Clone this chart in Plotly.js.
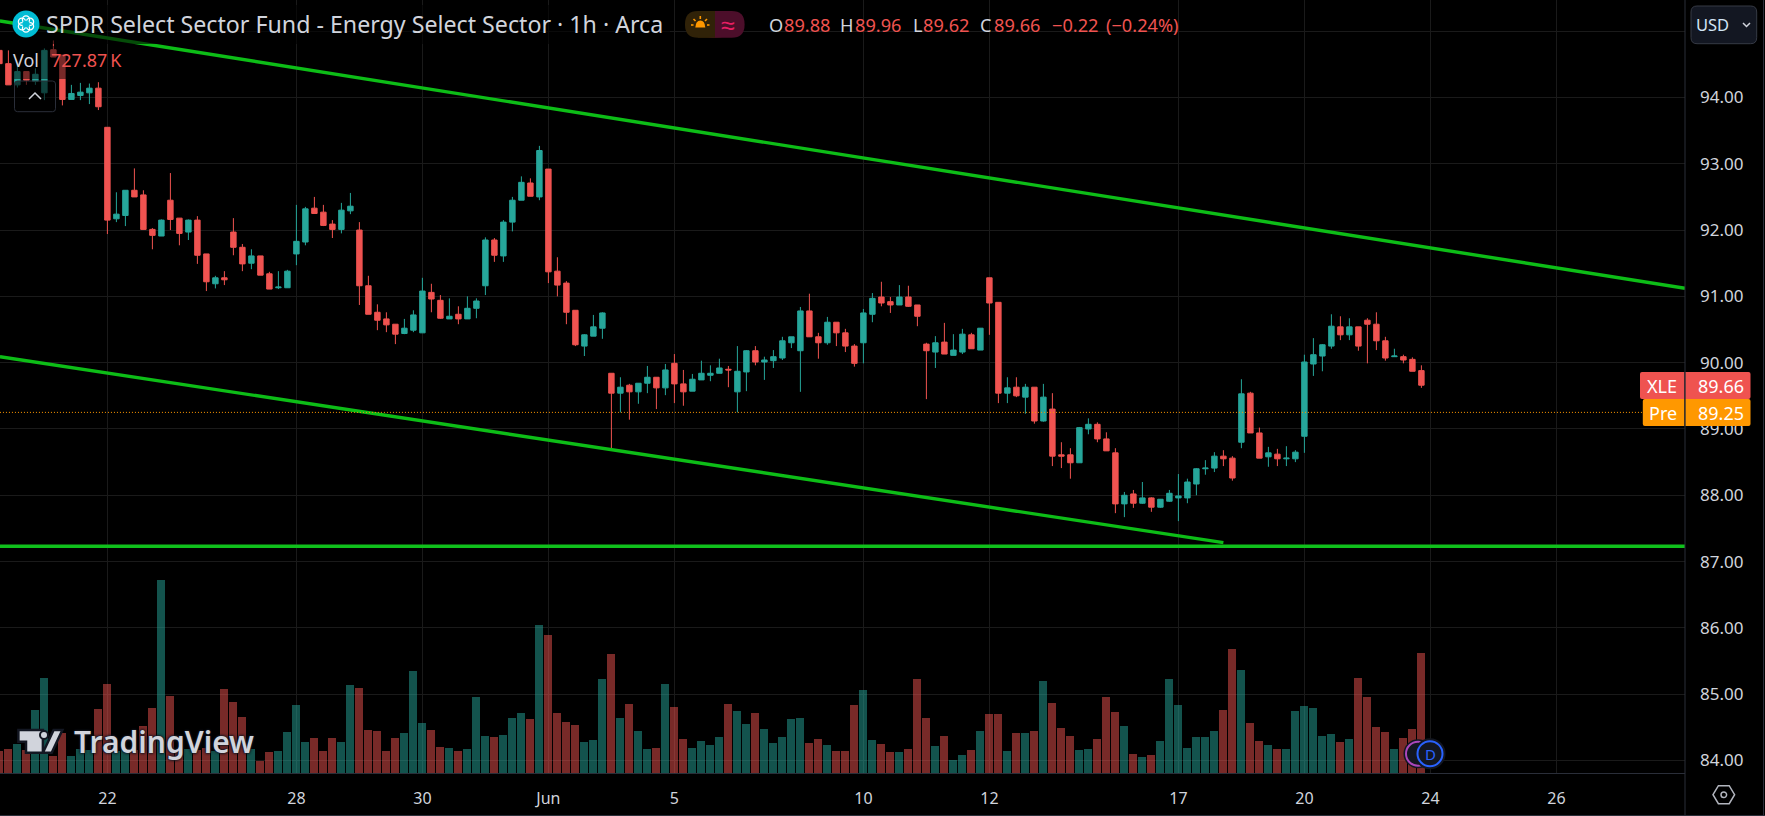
<!DOCTYPE html>
<html><head><meta charset="utf-8">
<script src="https://cdn.plot.ly/plotly-3.0.1.min.js"></script>
<style>html,body{margin:0;padding:0;background:#000;overflow:hidden}#c{width:1765px;height:816px}</style>
</head><body><div id="c"></div>
<script>
// ---- data ----
const openPrice = [94.71,94.51,94.19,94.39,94.24,94.07,94.72,94.64,93.97,94.03,94.07,94.14,93.55,92.17,92.22,92.60,92.53,92.01,91.91,92.45,92.18,91.97,92.15,91.64,91.19,91.28,91.97,91.74,91.50,91.61,91.34,91.13,91.13,91.64,91.82,92.33,92.27,92.09,92.01,92.29,92.00,91.16,90.76,90.66,90.58,90.44,90.49,90.45,91.06,90.94,90.66,90.73,90.66,90.82,91.16,91.85,91.61,92.12,92.45,92.71,92.50,92.92,91.38,91.20,90.79,90.25,90.40,90.52,89.84,89.54,89.66,89.56,89.69,89.78,89.62,89.99,89.68,89.57,89.74,89.81,89.84,89.90,89.56,89.86,90.18,90.01,90.03,90.07,90.30,90.18,90.78,90.39,90.30,90.61,90.45,90.25,90.30,90.73,90.99,90.92,90.87,90.99,90.87,90.28,90.16,90.31,90.11,90.16,90.42,90.19,91.28,90.91,89.54,89.63,89.48,89.63,89.12,89.30,88.61,88.61,88.49,89.00,89.07,88.85,88.64,87.87,88.02,87.88,87.96,87.82,87.91,87.96,87.96,88.17,88.40,88.41,88.59,88.56,88.80,89.54,88.94,88.58,88.62,88.55,88.55,88.89,89.98,90.10,90.25,90.54,90.42,90.54,90.64,90.58,90.33,90.09,90.09,90.05,89.88];
const highPrice = [94.75,94.71,94.49,94.39,94.44,94.74,94.86,94.64,94.19,94.22,94.21,94.23,93.55,92.57,92.60,92.93,92.60,92.03,92.16,92.86,92.18,92.16,92.21,91.64,91.31,91.38,92.18,91.79,91.71,91.61,91.37,91.38,91.40,92.38,92.35,92.50,92.38,92.15,92.41,92.56,92.12,91.31,90.88,90.76,90.58,90.66,90.79,91.28,91.19,91.02,90.97,90.85,91.00,90.97,91.89,91.88,92.15,92.50,92.81,92.78,93.27,92.92,91.59,91.23,90.79,90.43,90.72,90.76,89.84,89.78,89.68,89.69,89.95,89.78,89.98,90.13,89.89,89.83,90.03,89.96,90.06,89.95,90.25,90.19,90.25,90.09,90.19,90.39,90.39,90.84,91.04,90.45,90.69,90.61,90.51,90.28,90.81,91.05,91.22,90.99,91.17,91.16,90.87,90.30,90.40,90.60,90.43,90.51,90.45,90.52,91.28,90.91,89.78,89.78,89.68,89.63,89.68,89.54,88.80,88.71,89.03,89.16,89.10,88.95,88.71,88.05,88.08,88.20,87.97,87.94,88.08,88.32,88.25,88.41,88.53,88.65,88.68,88.59,89.75,89.56,89.02,88.73,88.70,88.74,88.68,90.12,90.37,90.28,90.73,90.70,90.67,90.54,90.67,90.76,90.39,90.21,90.12,90.08,89.96];
const lowPrice = [94.50,94.19,94.15,94.19,94.19,93.96,94.61,93.88,93.97,93.96,93.90,93.81,91.94,92.12,92.06,92.50,92.01,91.71,91.91,92.00,91.77,91.85,91.49,91.08,91.12,91.17,91.62,91.38,91.41,91.32,91.11,91.11,91.13,91.47,91.77,92.25,92.06,91.88,91.95,92.24,90.87,90.73,90.49,90.46,90.28,90.43,90.46,90.45,90.76,90.66,90.66,90.58,90.66,90.67,91.02,91.52,91.52,91.98,92.45,92.51,92.45,91.20,91.00,90.58,90.25,90.10,90.40,90.36,88.71,89.25,89.14,89.38,89.54,89.30,89.51,89.39,89.35,89.57,89.74,89.72,89.84,89.63,89.25,89.57,89.96,89.74,89.92,90.04,90.22,89.56,90.39,90.06,90.27,90.25,90.16,89.94,89.99,90.61,90.85,90.75,90.87,90.84,90.55,89.45,89.92,90.13,90.11,90.13,90.21,90.19,90.42,89.39,89.39,89.48,89.23,89.08,89.11,88.44,88.41,88.25,88.49,88.92,88.80,88.67,87.73,87.67,87.81,87.87,87.75,87.81,87.90,87.61,87.88,88.00,88.31,88.35,88.44,88.22,88.71,88.94,88.56,88.43,88.44,88.44,88.50,88.64,89.80,89.87,90.21,90.34,90.34,90.18,89.99,90.19,90.03,90.09,89.99,89.87,89.62];
const closePrice = [94.51,94.19,94.39,94.26,94.35,94.71,94.61,93.97,94.06,94.08,94.14,93.86,92.15,92.24,92.60,92.50,92.01,91.92,92.15,92.16,91.95,92.15,91.62,91.22,91.28,91.25,91.74,91.49,91.61,91.32,91.11,91.14,91.38,91.83,92.32,92.25,92.07,92.01,92.30,92.36,91.16,90.73,90.64,90.57,90.43,90.52,90.72,91.08,90.96,90.67,90.70,90.66,90.82,90.93,91.85,91.62,92.12,92.45,92.72,92.51,93.20,91.37,91.17,90.76,90.27,90.42,90.54,90.75,89.54,89.63,89.56,89.69,89.78,89.62,89.89,89.68,89.56,89.75,89.84,89.84,89.92,89.89,89.87,90.18,90.01,90.04,90.09,90.33,90.39,90.78,90.39,90.30,90.61,90.45,90.25,89.99,90.75,90.97,90.90,90.87,90.99,90.85,90.70,90.18,90.30,90.13,90.19,90.43,90.21,90.52,90.90,89.54,89.62,89.50,89.63,89.12,89.48,88.59,88.59,88.49,89.02,89.07,88.85,88.67,87.87,88.00,87.88,87.96,87.82,87.94,88.03,87.99,88.20,88.40,88.41,88.59,88.55,88.26,89.53,88.94,88.56,88.64,88.55,88.56,88.65,90.01,90.12,90.27,90.55,90.42,90.54,90.25,90.58,90.33,90.07,90.10,90.04,89.87,89.66];
// volume, thousands of shares
const volumeK = [135,147,177,141,383,577,101,242,105,145,138,389,540,135,148,142,286,395,1169,468,140,146,138,150,136,510,431,341,144,75,129,135,250,413,190,214,135,214,190,534,516,262,256,135,214,244,619,304,262,159,153,135,147,462,226,220,232,335,365,329,897,837,365,310,292,190,202,571,722,335,419,256,147,153,540,401,208,153,196,171,220,419,377,298,365,268,183,220,329,335,183,208,171,135,135,413,504,202,177,129,129,147,571,335,165,226,81,111,141,256,359,359,135,244,244,256,558,425,274,226,141,147,208,462,371,286,117,99,111,196,571,413,153,220,220,256,383,752,625,304,196,171,147,147,377,407,395,226,238,190,208,577,462,280,250,147,214,268,728];
const tickBars = [12,33,47,61,75,96,110,131,145,159,173];
const tickLabels = ["22","28","30","Jun","5","10","12","17","20","24","26"];
const priceTicks = [84,85,86,87,88,89,90,91,92,93,94,95];
const priceTickLabels = ["84.00","85.00","86.00","87.00","88.00","89.00","90.00","91.00","92.00","93.00","94.00",""];
// trend lines: bar index, price
const upperLineBars = [0.06,187.29], upperLinePrices = [95.154,91.122];
const lowerLineBars = [0.06,136], lowerLinePrices = [90.09,87.285];
const floorLineBars = [0.06,187.29], floorLinePrices = [87.23,87.23];
const preMarketPrice = 89.25;

const UP='#26a69a', DOWN='#ef5350', GREEN='#0dbd17', TXT='#d1d4dc', EDGE='#2a2e39';
const FONT='"Noto Sans", sans-serif';
const W=1685,H=773;
const barIndex=openPrice.map((_,i)=>i);
const px=x=>x/W, py=y=>1-y/H;

// page furniture helpers (pixel positions → paper coordinates)
const poly=(pts,close=true)=>pts.map((p,i)=>(i?'L':'M')+px(p[0])+' '+py(p[1])).join(' ')+(close?' Z':'');
const pathShape=(path,fill,color,width)=>({type:'path',xref:'paper',yref:'paper',path,fillcolor:fill||'rgba(0,0,0,0)',line:{color:color||'rgba(0,0,0,0)',width:width||0},layer:'above'});
const rect=(x0,y0,x1,y1,fill,color,width)=>({type:'rect',xref:'paper',yref:'paper',x0:px(x0),x1:px(x1),y0:py(y0),y1:py(y1),fillcolor:fill,line:{color:color||'rgba(0,0,0,0)',width:width||0},layer:'above'});
const circ=(cx,cy,r,fill,color,width)=>({type:'circle',xref:'paper',yref:'paper',x0:px(cx-r),x1:px(cx+r),y0:py(cy-r),y1:py(cy+r),fillcolor:fill,line:{color:color||'rgba(0,0,0,0)',width:width||0},layer:'above'});
const rrect=(x0,y0,x1,y1,r,fill,color,width)=>{
  const q=(a,b)=>px(a)+' '+py(b);
  return pathShape(`M${q(x0+r,y0)} L${q(x1-r,y0)} Q${q(x1,y0)} ${q(x1,y0+r)} L${q(x1,y1-r)} Q${q(x1,y1)} ${q(x1-r,y1)} L${q(x0+r,y1)} Q${q(x0,y1)} ${q(x0,y1-r)} L${q(x0,y0+r)} Q${q(x0,y0)} ${q(x0+r,y0)} Z`,fill,color,width);
};
const note=(text,x,y,color,size,anchor,extra)=>Object.assign({text,xref:'paper',yref:'paper',x:px(x),y:py(y),xanchor:anchor||'left',yanchor:'middle',showarrow:false,font:{family:FONT,size,color},borderpad:0,borderwidth:0},extra||{});

const shapes=[
  // dim strips behind the legend text
  rect(13,5,670,44,'rgba(0,0,0,0.6)'),
  rect(13,46,66,79,'rgba(0,0,0,0.5)'),
  rrect(14.5,81,55.5,111.7,3,'rgba(0,0,0,0.6)','#2a2e39',1),
  pathShape(poly([[29,99],[35,93],[41,99]],false),null,TXT,1.5),
  // symbol logo
  circ(26,24,13.5,'#00bcd4'),
  circ(26,19.5,3.6,'rgba(0,0,0,0)','#fff',1.3),circ(26,28.5,3.6,'rgba(0,0,0,0)','#fff',1.3),
  circ(22,21.8,3.6,'rgba(0,0,0,0)','#fff',1.3),circ(30,21.8,3.6,'rgba(0,0,0,0)','#fff',1.3),
  circ(22,26.2,3.6,'rgba(0,0,0,0)','#fff',1.3),circ(30,26.2,3.6,'rgba(0,0,0,0)','#fff',1.3),
  circ(26,24,3.6,'#00bcd4'),
  // session pill
  rrect(685,11,730,37.7,13,'#302208'),
  rrect(700,11,744.6,37.7,13,'#4c0e2a'),
  rect(685+13,11,715,37.7,'#302208'),
  pathShape(`M${px(695.3)} ${py(27.5)} Q${px(695.8)} ${py(20.5)} ${px(700.3)} ${py(20.5)} Q${px(704.8)} ${py(20.5)} ${px(705.3)} ${py(27.5)} Z`,'#ff9800'),
  pathShape(poly([[700.3,16],[700.3,19]],false),null,'#ff9800',1.6),
  pathShape(poly([[693.5,19],[695.5,21]],false),null,'#ff9800',1.6),
  pathShape(poly([[707,19],[705,21]],false),null,'#ff9800',1.6),
  pathShape(poly([[691,25],[693.5,25]],false),null,'#ff9800',1.6),
  pathShape(poly([[707,25],[709.5,25]],false),null,'#ff9800',1.6),
  // currency button
  rrect(1691,6,1756.7,43.7,6,'#131722','#363a45',1),
  pathShape(poly([[1743,23],[1746.5,26.5],[1750,23]],false),null,TXT,1.5),
  // price labels on the axis
  rrect(1640,372,1688,399,2,DOWN),
  rrect(1682,372,1750.5,399,2,DOWN),
  rrect(1642.8,399,1688,426,2,'#ff9800'),
  rrect(1682,399,1750.5,426,2,'#ff9800'),
  pathShape(poly([[1684.8,372],[1684.8,426]],false),null,'#131722',1),
  // TradingView mark
  pathShape(poly([[18.4,730],[42.9,730],[42.9,752.7],[26,752.7],[26,741.7],[18.4,741.7]]),TXT,'#131722',2.5),
  pathShape(poly([[62.4,730],[51.7,752.7],[42.9,752.7],[53.6,730]]),TXT,'#131722',2.5),
  circ(44,735,4,TXT,'#131722',2),
  // bar-state badges
  circ(1418,753.7,14.5,'#131722'),
  circ(1418,753.7,12,'#131722','#ab47bc',2),
  circ(1430,753.7,15.5,'#131722'),
  circ(1430,753.7,12.5,'#131722','#2962ff',2),
  // settings hexagon
  pathShape(poly([[1713,794.7],[1718.4,785.7],[1729.2,785.7],[1734.6,794.7],[1729.2,803.7],[1718.4,803.7]]),null,'#b2b5be',1.5),
  circ(1723.8,794.7,2.8,'rgba(0,0,0,0)','#b2b5be',1.5),
  // frame lines
  pathShape(poly([[1685,0],[1685,815]],false),null,EDGE,1),
  pathShape(poly([[0,815.5],[1765,815.5]],false),null,EDGE,1),
  pathShape(poly([[1763.5,0],[1763.5,816]],false),null,EDGE,1)
];

const ohlc=[["O",769,TXT],["89.88",783.7,DOWN],["H",840.3,TXT],["89.96",854.9,DOWN],["L",912.6,TXT],["89.62",923.4,DOWN],["C",980,TXT],["89.66",994.2,DOWN],["\u22120.22",1051.6,DOWN],["(\u22120.24%)",1105.9,DOWN]];
const annotations=[
  note("SPDR Select Sector Fund - Energy Select Sector \u00b7 1h \u00b7 Arca",46,24.5,TXT,23.2),
  note("Vol",13,60,TXT,18),
  note("727.87\u2009K",51,60,DOWN,18),
  note("\u2248",728,24,'#e91e63',25,'center'),
  note("USD",1696,24.5,'#d1e4f5',16.5),
  note("XLE",1662,385.5,'#fff',18,'center'),
  note("89.66",1721,385.5,'#fff',18,'center'),
  note("Pre",1663,412.5,'#fff',18,'center'),
  note("89.25",1721,412.5,'#fff',18,'center'),
  note("TradingView",74,741,TXT,30,'left',{font:{family:FONT,size:30,color:TXT,weight:600,shadow:'0 0 3px #131722, 0 0 3px #131722, 0 0 2px #131722'}}),
  note("D",1430,753.7,'#2962ff',15,'center')
].concat(ohlc.map(o=>note(o[0],o[1],25,o[2],18.2)));

const traces=[
  {type:'bar',x:barIndex,y:volumeK,yaxis:'y',width:0.889,hoverinfo:'skip',
   marker:{color:barIndex.map(i=>closePrice[i]>=openPrice[i]?'rgba(38,166,154,0.5)':'rgba(239,83,80,0.5)'),line:{width:0}}},
  {type:'scatter',mode:'lines',x:upperLineBars,y:upperLinePrices,yaxis:'y2',line:{color:GREEN,width:3.4},hoverinfo:'skip'},
  {type:'scatter',mode:'lines',x:lowerLineBars,y:lowerLinePrices,yaxis:'y2',line:{color:GREEN,width:3.4},hoverinfo:'skip'},
  {type:'scatter',mode:'lines',x:floorLineBars,y:floorLinePrices,yaxis:'y2',line:{color:'#10c01c',width:3.4},hoverinfo:'skip'},
  {type:'scatter',mode:'lines',x:[0.06,187.29],y:[preMarketPrice,preMarketPrice],yaxis:'y2',line:{color:'#ff9800',width:1,dash:'1px,2px'},hoverinfo:'skip'},
  {type:'candlestick',x:barIndex,open:openPrice,high:highPrice,low:lowPrice,close:closePrice,yaxis:'y2',whiskerwidth:0,hoverinfo:'skip',
   increasing:{line:{color:UP,width:1},fillcolor:UP},decreasing:{line:{color:DOWN,width:1},fillcolor:DOWN}}
];

const layout={
  width:1765,height:816,margin:{l:0,r:80,t:0,b:43},autosize:false,showlegend:false,
  paper_bgcolor:'#000',plot_bgcolor:'#000',font:{family:FONT,color:TXT},boxgap:0.14,bargap:0,dragmode:false,
  xaxis:{type:'linear',range:[0.0667,187.289],tickmode:'array',tickvals:tickBars,ticktext:tickLabels,showgrid:true,gridcolor:'#1a1a1a',gridwidth:1,
    zeroline:false,rangeslider:{visible:false},ticks:'',showline:true,linecolor:EDGE,linewidth:1,tickfont:{family:FONT,size:16,color:TXT},ticklabelstandoff:11},
  yaxis:{range:[0,4677],showgrid:false,zeroline:false,showticklabels:false,ticks:'',fixedrange:true},
  yaxis2:{overlaying:'y',side:'right',range:[83.811,95.47],tickmode:'array',tickvals:priceTicks,ticktext:priceTickLabels,showgrid:true,gridcolor:'#1a1a1a',gridwidth:1,
    zeroline:false,ticks:'',showline:false,tickfont:{family:FONT,size:17,color:TXT},ticklabelstandoff:14},
  shapes,annotations
};
Plotly.newPlot('c',traces,layout,{displayModeBar:false,staticPlot:true});
</script></body></html>
